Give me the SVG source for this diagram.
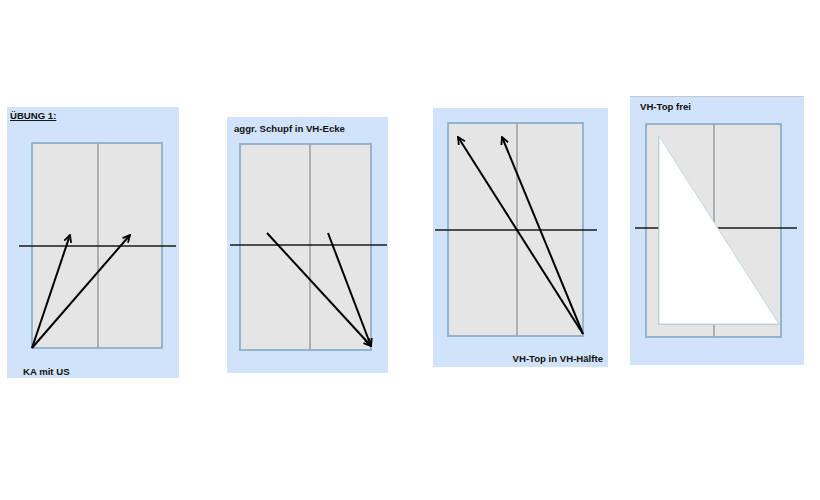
<svg xmlns="http://www.w3.org/2000/svg" width="820" height="500" viewBox="0 0 820 500">
<defs>
<style>
.bg{fill:#d0e3fa;}
.court{fill:#e5e5e5;stroke:#8eaecb;stroke-width:1.8;}
.mid{stroke:#a8a8a8;stroke-width:1.8;fill:none;}
.net{stroke:#1a1a1a;stroke-width:1.7;fill:none;}
.arr{stroke:#000;stroke-width:2;fill:none;marker-end:url(#ah);}
.lbl{font-family:"Liberation Sans",Arial,sans-serif;font-size:9.6px;font-weight:bold;fill:#111;}
</style>
<marker id="ah" viewBox="0 0 10 10" refX="9" refY="5" markerWidth="9" markerHeight="9" orient="auto" markerUnits="userSpaceOnUse">
<path d="M1,1 L9,5 L1,9" fill="none" stroke="#000" stroke-width="2"/>
</marker>
</defs>
<rect width="820" height="500" fill="#fff"/>

<g id="panel1">
<rect class="bg" x="7" y="107" width="172" height="271"/>
<rect class="court" x="32" y="143" width="130" height="205"/>
<line class="mid" x1="98" y1="143" x2="98" y2="348"/>
<line class="net" x1="19" y1="246" x2="176" y2="246"/>
<text class="lbl" x="10" y="119" text-decoration="underline">ÜBUNG 1:</text>
<text class="lbl" x="23" y="375">KA mit US</text>
</g>

<g id="panel2">
<rect class="bg" x="227" y="117" width="161" height="256"/>
<rect class="court" x="240" y="144" width="131" height="206"/>
<line class="mid" x1="310" y1="144" x2="310" y2="350"/>
<line class="net" x1="230" y1="245" x2="387" y2="245"/>
<text class="lbl" x="234" y="132">aggr. Schupf in VH-Ecke</text>
</g>

<g id="panel3">
<rect class="bg" x="433" y="108" width="175" height="259"/>
<rect class="court" x="448" y="123" width="135" height="213"/>
<line class="mid" x1="517" y1="123" x2="517" y2="336"/>
<line class="net" x1="435" y1="230" x2="597" y2="230"/>
<text class="lbl" x="603" y="362" text-anchor="end">VH-Top in VH-Hälfte</text>
</g>

<g id="panel4">
<rect class="bg" x="630" y="96" width="174" height="269"/>
<line x1="630" y1="96.5" x2="804" y2="96.5" stroke="#c8c8c8" stroke-width="1"/>
<rect class="court" x="646" y="124" width="135" height="213"/>
<line class="mid" x1="714" y1="124" x2="714" y2="337"/>
<line class="net" x1="635" y1="228" x2="797" y2="228"/>
<polygon points="658,137 658,325 780,325" fill="#b8b8b8" opacity="0.6"/>
<polygon points="659,136 659,324 779,324" fill="#fff" stroke="#b9cfe0" stroke-width="0.8"/>
<text class="lbl" x="640" y="110">VH-Top frei</text>
</g>

<g id="connectors">
<line class="arr" x1="32" y1="348" x2="70" y2="235"/>
<line class="arr" x1="32" y1="348" x2="130" y2="235"/>
<line class="arr" x1="267" y1="233" x2="371" y2="346"/>
<line class="arr" x1="328" y1="233" x2="371" y2="346"/>
<line class="arr" x1="583" y1="334" x2="458" y2="137"/>
<line class="arr" x1="583" y1="334" x2="502" y2="137"/>
</g>
</svg>
